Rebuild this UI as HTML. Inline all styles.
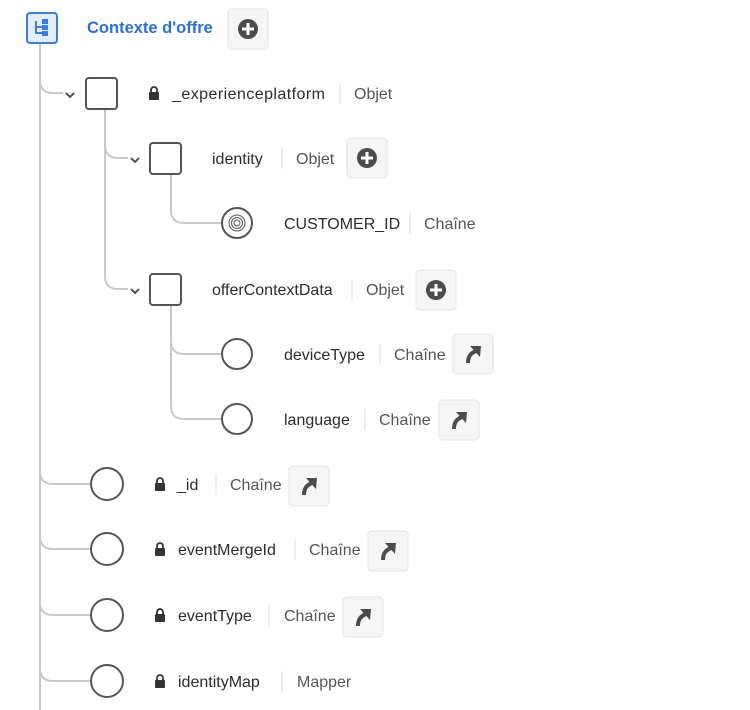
<!DOCTYPE html>
<html><head><meta charset="utf-8"><style>
html,body{margin:0;padding:0;background:#fff;width:750px;height:710px;overflow:hidden}
text{font-family:"Liberation Sans",sans-serif;font-size:16px}
.n{fill:#2c2c2c}.t{fill:#555}
</style></head><body>
<svg width="750" height="710" viewBox="0 0 750 710" xmlns="http://www.w3.org/2000/svg">
<defs>
<g id="plus"><rect x="0" y="0" width="40" height="40" rx="4" fill="#f5f5f5" stroke="#e3e3e3"/><circle cx="20" cy="20" r="10" fill="#4b4b4b"/><path d="M20 14v12M14 20h12" stroke="#fff" stroke-width="3"/></g>
<g id="arr"><rect x="0" y="0" width="40" height="40" rx="4" fill="#f5f5f5" stroke="#e3e3e3"/><path d="M15 29 C15 22 18 19 23 17" stroke="#4b4b4b" stroke-width="4" fill="none"/><path d="M17 12 L28 12 L27 23Z" fill="#4b4b4b"/></g>
<g id="lock"><rect x="-5" y="-2" width="10" height="8" rx="1" fill="#333"/><path d="M-3 -2v-2a3 3 0 0 1 6 0v2" stroke="#333" stroke-width="1.8" fill="none"/></g>
<path id="chev" d="M-4 -2l4 4l4 -4" stroke="#555" stroke-width="2" fill="none"/>
</defs>
<g stroke="#c8c8c8" stroke-width="2" fill="none">
<path d="M40 43V710"/>
<path d="M40 80q0 13 13 13h10"/>
<path d="M105 109V276q0 13 13 13h10"/>
<path d="M105 145q0 13 13 13h10"/>
<path d="M171 174V210q0 13 13 13h38"/>
<path d="M171 305V406q0 13 13 13h38"/>
<path d="M171 341q0 13 13 13h38"/>
<path d="M40 471q0 13 13 13h38"/>
<path d="M40 536q0 13 13 13h38"/>
<path d="M40 602q0 13 13 13h38"/>
<path d="M40 668q0 13 13 13h38"/>
</g>
<rect x="27" y="13" width="30" height="30" rx="3" fill="#e3ecfa" stroke="#3b7ddd" stroke-width="2"/>
<g stroke="#3b7ddd" stroke-width="2" fill="none"><path d="M36 21v12h8M36 27h8"/><rect x="43" y="20" width="4" height="3" fill="#3b7ddd"/><rect x="43" y="26" width="4" height="3" fill="#3b7ddd"/><rect x="43" y="32" width="4" height="3" fill="#3b7ddd"/></g>
<text x="87" y="33" style="font-size:16.5px;font-weight:bold" fill="#2d6fd6">Contexte d'offre</text>
<use href="#plus" x="228" y="9"/>
<use href="#chev" x="70" y="95"/>
<rect x="86" y="78" width="31" height="31" rx="3" fill="#fff" stroke="#555" stroke-width="2"/>
<use href="#lock" x="154" y="94"/>
<text x="172" y="99" class="n" textLength="153">_experienceplatform</text><path d="M340 83v21" stroke="#ddd"/><text x="354" y="99" class="t">Objet</text>
<use href="#chev" x="135" y="160"/>
<rect x="150" y="143" width="31" height="31" rx="3" fill="#fff" stroke="#555" stroke-width="2"/>
<text x="212" y="164" class="n">identity</text><path d="M282 148v21" stroke="#ddd"/><text x="296" y="164" class="t">Objet</text>
<use href="#plus" x="347" y="138"/>
<circle cx="237" cy="223" r="15" fill="#fff" stroke="#555" stroke-width="2"/>
<g stroke="#555" stroke-width="1" fill="none"><circle cx="237" cy="223" r="3"/><circle cx="237" cy="223" r="5.5"/><circle cx="237" cy="223" r="8"/></g>
<text x="284" y="229" class="n">CUSTOMER_ID</text><path d="M410 213v21" stroke="#ddd"/><text x="424" y="229" class="t">Chaîne</text>
<use href="#chev" x="135" y="291"/>
<rect x="150" y="274" width="31" height="31" rx="3" fill="#fff" stroke="#555" stroke-width="2"/>
<text x="212" y="295" class="n">offerContextData</text><path d="M352 279v21" stroke="#ddd"/><text x="366" y="295" class="t">Objet</text>
<use href="#plus" x="416" y="270"/>
<circle cx="237" cy="354" r="15" fill="#fff" stroke="#555" stroke-width="2"/>
<text x="284" y="360" class="n">deviceType</text><path d="M380 344v21" stroke="#ddd"/><text x="394" y="360" class="t">Chaîne</text>
<use href="#arr" x="453" y="334"/>
<circle cx="237" cy="419" r="15" fill="#fff" stroke="#555" stroke-width="2"/>
<text x="284" y="425" class="n">language</text><path d="M365 409v21" stroke="#ddd"/><text x="379" y="425" class="t">Chaîne</text>
<use href="#arr" x="439" y="400"/>
<circle cx="107" cy="484" r="16" fill="#fff" stroke="#555" stroke-width="2"/>
<use href="#lock" x="160" y="485"/>
<text x="177" y="490" class="n">_id</text><path d="M216 474v21" stroke="#ddd"/><text x="230" y="490" class="t">Chaîne</text>
<use href="#arr" x="289" y="466"/>
<circle cx="107" cy="549" r="16" fill="#fff" stroke="#555" stroke-width="2"/>
<use href="#lock" x="160" y="550"/>
<text x="178" y="555" class="n">eventMergeId</text><path d="M295 539v21" stroke="#ddd"/><text x="309" y="555" class="t">Chaîne</text>
<use href="#arr" x="368" y="531"/>
<circle cx="107" cy="615" r="16" fill="#fff" stroke="#555" stroke-width="2"/>
<use href="#lock" x="160" y="616"/>
<text x="178" y="621" class="n">eventType</text><path d="M269 605v21" stroke="#ddd"/><text x="284" y="621" class="t">Chaîne</text>
<use href="#arr" x="343" y="597"/>
<circle cx="107" cy="681" r="16" fill="#fff" stroke="#555" stroke-width="2"/>
<use href="#lock" x="160" y="682"/>
<text x="178" y="687" class="n">identityMap</text><path d="M282 671v21" stroke="#ddd"/><text x="297" y="687" class="t">Mapper</text>
</svg>
</body></html>
